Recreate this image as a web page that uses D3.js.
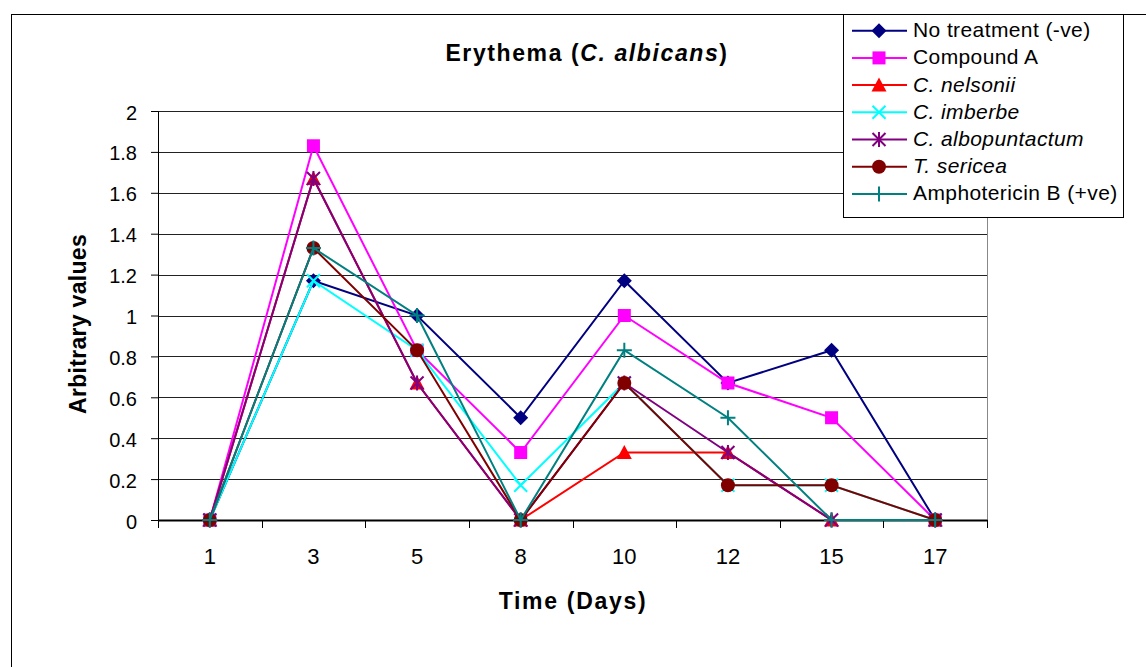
<!DOCTYPE html>
<html><head><meta charset="utf-8">
<script src="https://cdn.jsdelivr.net/npm/d3@7"></script>
<style>body{margin:0;background:#fff}svg{display:block;font-family:"Liberation Sans",Arial,sans-serif}</style>
</head><body>
<svg id="c" width="1146" height="667"></svg>
<script>
const days = ["1","3","5","8","10","12","15","17"];
const yTicks = [0,0.2,0.4,0.6,0.8,1,1.2,1.4,1.6,1.8,2];
const seriesNames = ["No treatment (-ve)","Compound A","C. nelsonii","C. imberbe","C. albopuntactum","T. sericea","Amphotericin B (+ve)"];
const italicNames = [false,false,true,true,true,true,false];
const noTreatment = [0,1.17,1.0,0.5,1.17,0.67,0.83,0];
const compoundA   = [0,1.83,0.83,0.33,1.0,0.67,0.5,0];
const cNelsonii   = [0,1.67,0.67,0,0.33,0.33,0,0];
const cImberbe    = [0,1.17,0.83,0.17,0.67,0.17,0.17,0];
const cAlbopunt   = [0,1.67,0.67,0,0.67,0.33,0,0];
const tSericea    = [0,1.33,0.83,0,0.67,0.17,0.17,0];
const amphoB      = [0,1.33,1.0,0,0.83,0.5,0,0];
const seriesValues = [noTreatment,compoundA,cNelsonii,cImberbe,cAlbopunt,tSericea,amphoB];
const colors = ["#000080","#ff00ff","#ff0000","#00ffff","#800080","#800000","#008080"];
const markers = ["diamond","square","triangle","x","star","circle","plus"];

const svg = d3.select("#c");
svg.append("rect").attr("x",11.5).attr("y",14.5).attr("width",1200).attr("height",700)
  .attr("fill","#fff").attr("stroke","#000").attr("stroke-width",1);

const L=158, R=987, T=111, B=520;
const x = d3.scaleBand().domain(days).range([L,R]);
const y = d3.scaleLinear().domain([0,2]).range([B,T]);

svg.append("g").selectAll("line").data(yTicks.slice(1)).join("line")
  .attr("x1",L).attr("x2",R).attr("y1",d=>Math.round(y(d))+0.5).attr("y2",d=>Math.round(y(d))+0.5)
  .attr("stroke","#222").attr("stroke-width",1);
svg.append("line").attr("x1",R+0.5).attr("x2",R+0.5).attr("y1",T).attr("y2",B).attr("stroke","#888");

const ya = svg.append("g").attr("transform",`translate(${L},0)`)
  .call(d3.axisLeft(y).tickValues(yTicks).tickSize(7).tickPadding(14).tickFormat(d=>String(+d.toFixed(1))));
ya.select(".domain").attr("stroke","#000");
ya.selectAll(".tick line").attr("stroke","#000");
ya.selectAll("text").attr("font-size",20).attr("fill","#000").attr("dy","0.4em").attr("font-family","Liberation Sans, Arial, sans-serif");

const xa = svg.append("g").attr("transform",`translate(0,${B})`)
  .call(d3.axisBottom(x).tickSize(0).tickPadding(28));
xa.select(".domain").attr("stroke","#000").attr("stroke-width",2);
xa.selectAll("text").attr("font-size",22).attr("fill","#000").attr("font-family","Liberation Sans, Arial, sans-serif");
const bounds = days.map(d=>x(d)).concat([R]);
svg.append("g").selectAll("line").data(bounds).join("line")
  .attr("x1",d=>Math.round(d)+0.5).attr("x2",d=>Math.round(d)+0.5).attr("y1",B).attr("y2",B+8)
  .attr("stroke","#000");

const cx = d=>x(d)+x.bandwidth()/2;

function drawMarker(g, type, color, px, py, s){
  const h=s/2;
  if(type==="diamond") g.append("path").attr("d",`M${px},${py-h-1}L${px+h+1},${py}L${px},${py+h+1}L${px-h-1},${py}Z`).attr("fill",color);
  else if(type==="square") g.append("rect").attr("x",px-h).attr("y",py-h).attr("width",s).attr("height",s).attr("fill",color);
  else if(type==="triangle") g.append("path").attr("d",`M${px},${py-h-1}L${px+h+1},${py+h}L${px-h-1},${py+h}Z`).attr("fill",color);
  else if(type==="x") g.append("path").attr("d",`M${px-h},${py-h}L${px+h},${py+h}M${px-h},${py+h}L${px+h},${py-h}`).attr("stroke",color).attr("stroke-width",2);
  else if(type==="star") g.append("path").attr("d",`M${px-h},${py-h}L${px+h},${py+h}M${px-h},${py+h}L${px+h},${py-h}M${px},${py-h-1}L${px},${py+h+1}`).attr("stroke",color).attr("stroke-width",2);
  else if(type==="circle") g.append("circle").attr("cx",px).attr("cy",py).attr("r",h+0.5).attr("fill",color);
  else if(type==="plus") g.append("path").attr("d",`M${px-h-1},${py}L${px+h+1},${py}M${px},${py-h-1}L${px},${py+h+1}`).attr("stroke",color).attr("stroke-width",2);
}

const line = d3.line().x((d,i)=>cx(days[i])).y(d=>y(d));
seriesValues.forEach((vals,si)=>{
  const g = svg.append("g");
  g.append("path").attr("d",line(vals)).attr("fill","none").attr("stroke",colors[si]).attr("stroke-width",2);
  vals.forEach((v,i)=>drawMarker(g,markers[si],colors[si],cx(days[i]),y(v),13));
});

const title = svg.append("text").attr("x",587).attr("y",61).attr("text-anchor","middle")
  .attr("font-size",23).attr("font-weight","bold").attr("letter-spacing",1.6);
title.append("tspan").text("Erythema (");
title.append("tspan").attr("font-style","italic").text("C. albicans");
title.append("tspan").text(")");

svg.append("text").attr("transform",`translate(86,324) rotate(-90)`).attr("text-anchor","middle")
  .attr("font-size",23).attr("font-weight","bold").attr("letter-spacing",0.3).text("Arbitrary values");
svg.append("text").attr("x",573).attr("y",609).attr("text-anchor","middle")
  .attr("font-size",23).attr("font-weight","bold").attr("letter-spacing",1.7).text("Time (Days)");

const lg = svg.append("g");
lg.append("rect").attr("x",843.5).attr("y",14.5).attr("width",280).attr("height",203)
  .attr("fill","#fff").attr("stroke","#000");
seriesNames.forEach((name,i)=>{
  const ry = 30.7 + i*27.2;
  lg.append("line").attr("x1",852).attr("x2",907).attr("y1",ry).attr("y2",ry).attr("stroke",colors[i]).attr("stroke-width",2);
  drawMarker(lg,markers[i],colors[i],879,ry,13);
  lg.append("text").attr("x",913).attr("y",ry+6.5).attr("font-size",21).attr("letter-spacing",0.4)
    .attr("font-style",italicNames[i]?"italic":"normal").text(name);
});
</script>
</body></html>
